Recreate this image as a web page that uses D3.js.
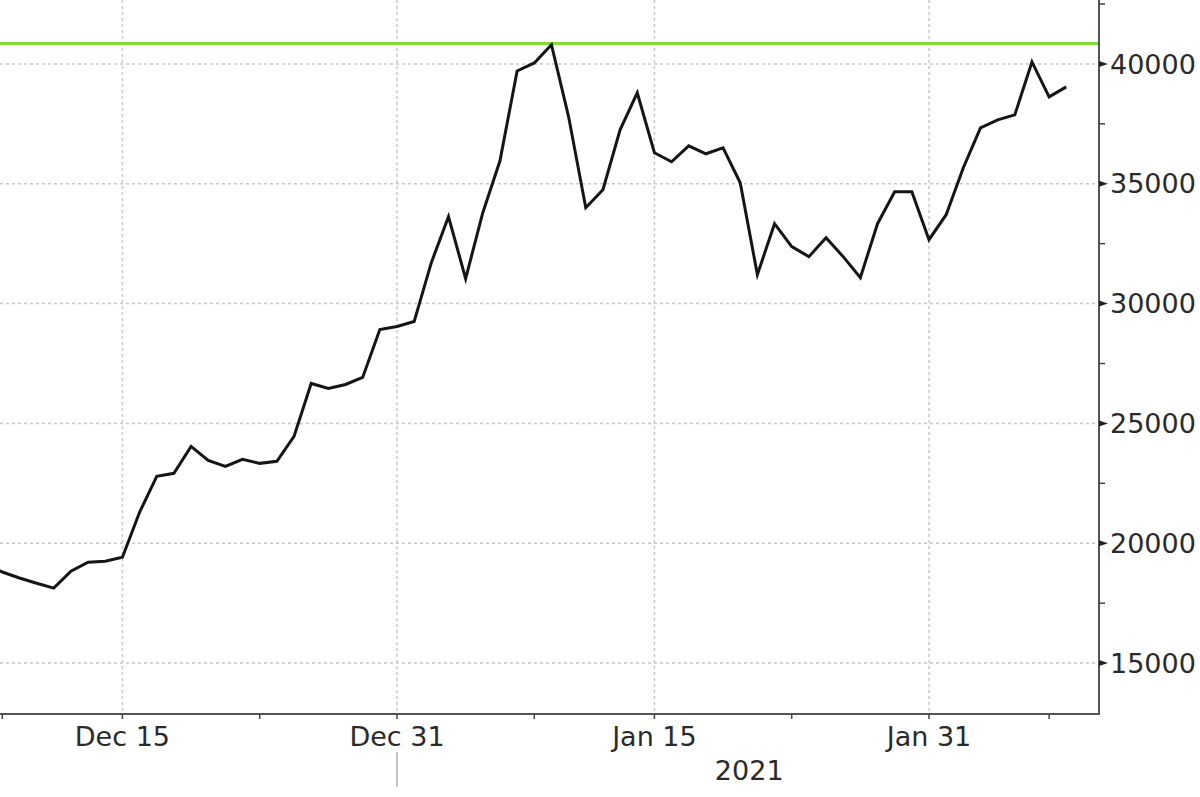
<!DOCTYPE html>
<html>
<head>
<meta charset="utf-8">
<script src="https://cdn.jsdelivr.net/npm/d3@7"></script>
<style>
  html, body { margin: 0; padding: 0; background: #fff; }
  svg { display: block; }
  text { font-family: "DejaVu Sans", Verdana, sans-serif; fill: #2a2a2a; }
</style>
</head>
<body>
<svg id="chart" width="1200" height="797"></svg>
<script>
// ---- data ----
const dates = [
  "2020-12-07","2020-12-08","2020-12-09","2020-12-10","2020-12-11","2020-12-12","2020-12-13",
  "2020-12-14","2020-12-15","2020-12-16","2020-12-17","2020-12-18","2020-12-19","2020-12-20",
  "2020-12-21","2020-12-22","2020-12-23","2020-12-24","2020-12-25","2020-12-26","2020-12-27",
  "2020-12-28","2020-12-29","2020-12-30","2020-12-31","2021-01-01","2021-01-02","2021-01-03",
  "2021-01-04","2021-01-05","2021-01-06","2021-01-07","2021-01-08","2021-01-09","2021-01-10",
  "2021-01-11","2021-01-12","2021-01-13","2021-01-14","2021-01-15","2021-01-16","2021-01-17",
  "2021-01-18","2021-01-19","2021-01-20","2021-01-21","2021-01-22","2021-01-23","2021-01-24",
  "2021-01-25","2021-01-26","2021-01-27","2021-01-28","2021-01-29","2021-01-30","2021-01-31",
  "2021-02-01","2021-02-02","2021-02-03","2021-02-04","2021-02-05","2021-02-06","2021-02-07",
  "2021-02-08"
];
const prices = [
  19150, 18800, 18550, 18330, 18125, 18833, 19208,
  19250, 19417, 21292, 22792, 22917, 24042, 23458,
  23208, 23500, 23333, 23417, 24458, 26667, 26458,
  26625, 26917, 28917, 29042, 29250, 31708, 33625,
  31042, 33792, 35958, 39708, 40042, 40800, 37792,
  34000, 34750, 37250, 38792, 36292, 35917, 36583,
  36250, 36500, 35042, 31208, 33333, 32375, 31958,
  32750, 31958, 31083, 33333, 34667, 34667, 32667,
  33708, 35667, 37333, 37667, 37875, 40083, 38625,
  39042
];
const highLevel = 40850;

const xMajorTickDates = ["2020-12-15", "2020-12-31", "2021-01-15", "2021-01-31"];
const xMajorTickLabels = ["Dec 15", "Dec 31", "Jan 15", "Jan 31"];
const xMinorTickDates = ["2020-12-08", "2020-12-23", "2021-01-08", "2021-01-23", "2021-02-07"];
const yearLabel = "2021";
const yearBoundary = "2020-12-31";
const yearLabelDate = "2021-01-20";
const yMajorTicks = [15000, 20000, 25000, 30000, 35000, 40000];
const yMinorTicks = [17500, 22500, 27500, 32500, 37500, 42500];

// ---- layout ----
const parse = d3.timeParse("%Y-%m-%d");
const plot = { left: 0, right: 1099, top: 0, bottom: 714 };
const svg = d3.select("#chart");

const x = d3.scaleTime()
  .domain([parse("2020-12-31"), parse("2021-01-31")])
  .range([397, 929]);
const y = d3.scaleLinear()
  .domain([12875, 42667])
  .range([plot.bottom, plot.top]);

svg.append("defs").append("clipPath").attr("id", "clip")
  .append("rect")
  .attr("x", plot.left).attr("y", plot.top)
  .attr("width", plot.right - plot.left).attr("height", plot.bottom - plot.top);

// grid
const grid = svg.append("g").attr("clip-path", "url(#clip)");
grid.selectAll("line.hg").data(yMajorTicks).join("line")
  .attr("x1", plot.left).attr("x2", plot.right)
  .attr("y1", d => y(d)).attr("y2", d => y(d))
  .attr("stroke", "#c8c8c8").attr("stroke-width", 1.5).attr("stroke-dasharray", "3,3");
grid.selectAll("line.vg").data(xMajorTickDates).join("line")
  .attr("x1", d => x(parse(d))).attr("x2", d => x(parse(d)))
  .attr("y1", plot.top).attr("y2", plot.bottom)
  .attr("stroke", "#c8c8c8").attr("stroke-width", 1.5).attr("stroke-dasharray", "3,3");

// high level line
svg.append("line")
  .attr("x1", plot.left).attr("x2", plot.right)
  .attr("y1", y(highLevel)).attr("y2", y(highLevel))
  .attr("stroke", "#86d93a").attr("stroke-width", 3);

// price line
const series = dates.map((d, i) => ({ date: parse(d), value: prices[i] }));
svg.append("path")
  .datum(series)
  .attr("clip-path", "url(#clip)")
  .attr("fill", "none")
  .attr("stroke", "#151515")
  .attr("stroke-width", 3)
  .attr("stroke-linejoin", "miter")
  .attr("d", d3.line().x(d => x(d.date)).y(d => y(d.value)));

// right y axis
const yAxis = svg.append("g").attr("transform", `translate(${plot.right},0)`);
yAxis.append("line").attr("x1", 0).attr("x2", 0).attr("y1", plot.top).attr("y2", plot.bottom + 1)
  .attr("stroke", "#555").attr("stroke-width", 2);
yAxis.selectAll("path.maj").data(yMajorTicks).join("path")
  .attr("d", d => `M0,${y(d) - 3}L9,${y(d)}L0,${y(d) + 3}Z`)
  .attr("fill", "#222");
yAxis.selectAll("line.min").data(yMinorTicks).join("line")
  .attr("x1", 0).attr("x2", 6)
  .attr("y1", d => y(d)).attr("y2", d => y(d))
  .attr("stroke", "#444").attr("stroke-width", 1.5);
yAxis.selectAll("text").data(yMajorTicks).join("text")
  .attr("x", 11).attr("y", d => y(d)).attr("dy", "0.36em")
  .attr("font-size", 27)
  .text(d => d3.format("d")(d));

// bottom x axis
const xAxis = svg.append("g");
xAxis.append("line").attr("x1", plot.left).attr("x2", plot.right)
  .attr("y1", plot.bottom).attr("y2", plot.bottom)
  .attr("stroke", "#555").attr("stroke-width", 2);
xAxis.selectAll("line.maj").data(xMajorTickDates).join("line")
  .attr("x1", d => x(parse(d))).attr("x2", d => x(parse(d)))
  .attr("y1", plot.bottom).attr("y2", plot.bottom + 5)
  .attr("stroke", "#444").attr("stroke-width", 1.5);
xAxis.selectAll("line.min").data(xMinorTickDates).join("line")
  .attr("x1", d => x(parse(d))).attr("x2", d => x(parse(d)))
  .attr("y1", plot.bottom).attr("y2", plot.bottom + 5)
  .attr("stroke", "#444").attr("stroke-width", 1.5);
xAxis.selectAll("text.lab").data(xMajorTickDates).join("text")
  .attr("x", d => x(parse(d))).attr("y", 746)
  .attr("text-anchor", "middle")
  .attr("font-size", 27)
  .text((d, i) => xMajorTickLabels[i]);

// year separator and label
xAxis.append("line")
  .attr("x1", x(parse(yearBoundary))).attr("x2", x(parse(yearBoundary)))
  .attr("y1", 752).attr("y2", 787)
  .attr("stroke", "#b0b0b0").attr("stroke-width", 1.5);
xAxis.append("text")
  .attr("x", x(parse(yearLabelDate)) + 9).attr("y", 780)
  .attr("text-anchor", "middle")
  .attr("font-size", 27)
  .text(yearLabel);
</script>
</body>
</html>
